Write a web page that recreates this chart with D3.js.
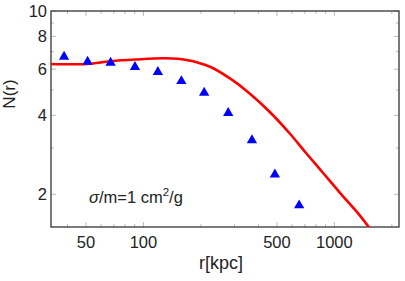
<!DOCTYPE html>
<html>
<head>
<meta charset="utf-8">
<script src="https://cdn.jsdelivr.net/npm/d3@7"></script>
<style>
  body { margin: 0; background: #fff; }
  svg { display: block; font-family: "Liberation Sans", Arial, sans-serif; }
</style>
</head>
<body>
<svg id="chart" width="405" height="281"></svg>
<script>
// observed points (triangles)
var obsR = [38.4, 51.0, 67.3, 90.3, 119, 158, 208, 278, 370, 488, 654];
var obsN = [6.75, 6.46, 6.40, 6.17, 5.90, 5.45, 4.92, 4.12, 3.24, 2.40, 1.83];

// model curve (red line)
var modelR = [32.8, 50.6, 66.8, 90.3, 131, 168, 223, 284, 360, 459, 584, 714, 873, 1067, 1305, 1504, 1600];
var modelN = [6.28, 6.28, 6.43, 6.53, 6.60, 6.50, 6.13, 5.53, 4.85, 4.12, 3.41, 2.86, 2.41, 2.03, 1.72, 1.51, 1.42];

var xMajor = [50, 100, 500, 1000];
var xMinor = [40, 60, 70, 80, 90, 200, 300, 400, 600, 700, 800, 900, 2000];
var yMajor = [2, 4, 6, 8, 10];
var yMinor = [3, 5, 7, 9];

var svg = d3.select("#chart"),
    pLeft = 51, pRight = 399, pTop = 11, pBottom = 227;

var x = d3.scaleLog().domain([32.8, 2180]).range([pLeft, pRight]);
var y = d3.scaleLog().domain([1.5, 10]).range([pBottom, pTop]);

svg.append("defs").append("clipPath").attr("id", "clip")
  .append("rect").attr("x", pLeft).attr("y", pTop)
  .attr("width", pRight - pLeft).attr("height", pBottom - pTop);

// inside ticks, light gray, on all four sides
var tickCol = "#bbb";
function xTicks(vals, len) {
  vals.forEach(function(v) {
    svg.append("line").attr("x1", x(v)).attr("x2", x(v))
      .attr("y1", pBottom).attr("y2", pBottom - len).attr("stroke", tickCol);
    svg.append("line").attr("x1", x(v)).attr("x2", x(v))
      .attr("y1", pTop).attr("y2", pTop + len).attr("stroke", tickCol);
  });
}
function yTicks(vals, len) {
  vals.forEach(function(v) {
    svg.append("line").attr("y1", y(v)).attr("y2", y(v))
      .attr("x1", pLeft).attr("x2", pLeft + len).attr("stroke", tickCol);
    svg.append("line").attr("y1", y(v)).attr("y2", y(v))
      .attr("x1", pRight).attr("x2", pRight - len).attr("stroke", tickCol);
  });
}
xTicks(xMajor, 5); xTicks(xMinor, 3);
yTicks(yMajor, 5); yTicks(yMinor, 3);

// frame
svg.append("rect").attr("x", pLeft).attr("y", pTop)
  .attr("width", pRight - pLeft).attr("height", pBottom - pTop)
  .attr("fill", "none").attr("stroke", "#333").attr("stroke-width", 1.3);

// tick labels
svg.selectAll(".xl").data(xMajor).enter().append("text")
  .attr("x", function(d) { return x(d); }).attr("y", 247.5)
  .attr("text-anchor", "middle").attr("font-size", 16.5).attr("fill", "#222")
  .text(function(d) { return d; });

svg.selectAll(".yl").data(yMajor).enter().append("text")
  .attr("x", 47).attr("y", function(d) { return y(d) + 6; })
  .attr("text-anchor", "end").attr("font-size", 16.5).attr("fill", "#222")
  .text(function(d) { return d; });

// axis labels
svg.append("text").attr("x", 221).attr("y", 269)
  .attr("text-anchor", "middle").attr("font-size", 18).attr("fill", "#222")
  .text("r[kpc]");
svg.append("text").attr("transform", "translate(15,94) rotate(-90)")
  .attr("text-anchor", "middle").attr("font-size", 17).attr("fill", "#222")
  .text("N(r)");

// model line
var model = modelR.map(function(r, i) { return [r, modelN[i]]; });
svg.append("path").datum(model)
  .attr("clip-path", "url(#clip)")
  .attr("fill", "none").attr("stroke", "#f00").attr("stroke-width", 2.6)
  .attr("d", d3.line()
    .x(function(d) { return x(d[0]); })
    .y(function(d) { return y(d[1]); })
    .curve(d3.curveCatmullRom));

// observed triangles
var obs = obsR.map(function(r, i) { return [r, obsN[i]]; });
svg.selectAll(".tri").data(obs).enter().append("path")
  .attr("transform", function(d) { return "translate(" + x(d[0]) + "," + (y(d[1]) + 1) + ")"; })
  .attr("d", d3.symbol().type(d3.symbolTriangle).size(46))
  .attr("fill", "#00f");

// annotation
var ann = svg.append("text").attr("x", 89).attr("y", 203)
  .attr("font-size", 16.5).attr("fill", "#222");
ann.append("tspan").attr("font-style", "italic").text("σ");
ann.append("tspan").text("/m=1 cm");
ann.append("tspan").attr("dy", -7).attr("font-size", 11.5).text("2");
ann.append("tspan").attr("dy", 7).text("/g");
</script>
</body>
</html>
